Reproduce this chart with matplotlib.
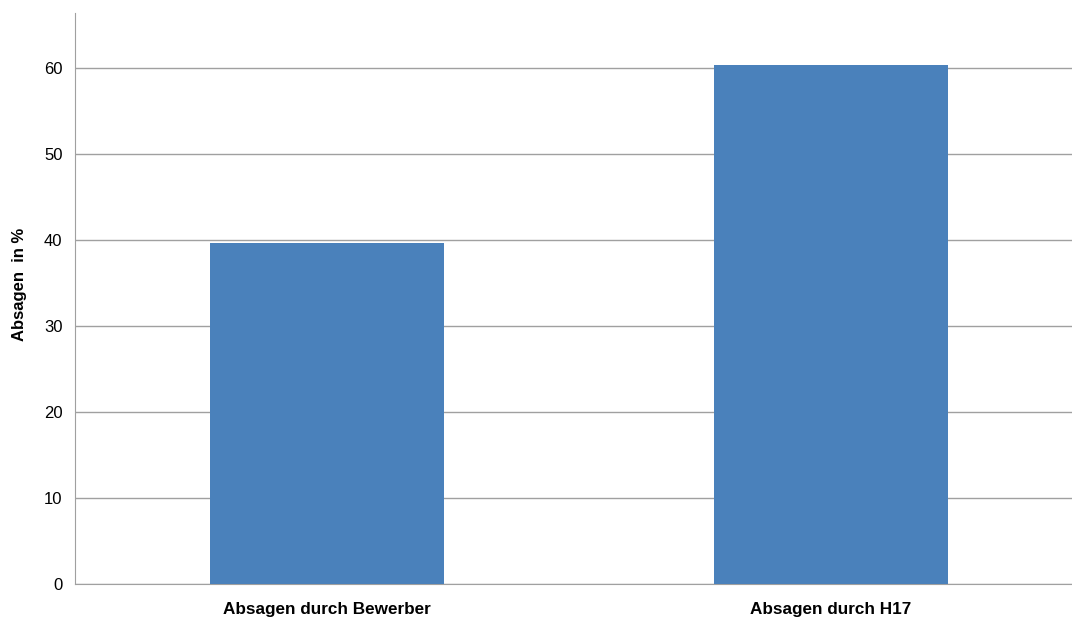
import matplotlib.pyplot as plt

# Daten
kategorien = ['Absagen durch Bewerber', 'Absagen durch H17']
werte = [39.6, 60.4]
y_ticks = [0, 10, 20, 30, 40, 50, 60]

plt.rcParams['font.family'] = ['Liberation Sans', 'DejaVu Sans']

fig = plt.figure(figsize=(10.72, 6.19), dpi=100)
ax = fig.add_axes([75 / 1072, 1 - 584 / 619, 1 - 75 / 1072, (584 - 13) / 619])

x = range(len(kategorien))
ax.bar(x, werte, width=0.466, color='#4A81BB', zorder=3)

ax.set_xlim(-0.5, -0.5 + 997 / 504)
ax.set_ylim(0, 66.4)
ax.set_yticks(y_ticks)
ax.set_xticks(list(x))
ax.set_xticklabels(kategorien, fontsize=12.3, fontweight='bold')
ax.tick_params(axis='y', labelsize=12, length=0, pad=9)
ax.tick_params(axis='x', length=0, pad=13)

ax.grid(axis='y', color='#A0A0A0', linewidth=1, zorder=0)
for s in ['top', 'right']:
    ax.spines[s].set_visible(False)
ax.spines['left'].set_color('#A0A0A0')
ax.spines['bottom'].set_color('#A0A0A0')

ax.set_ylabel('Absagen  in %', fontsize=12, fontweight='bold')
ax.yaxis.set_label_coords(-0.048, 0.524)

fig.savefig('out.png', dpi=100)
